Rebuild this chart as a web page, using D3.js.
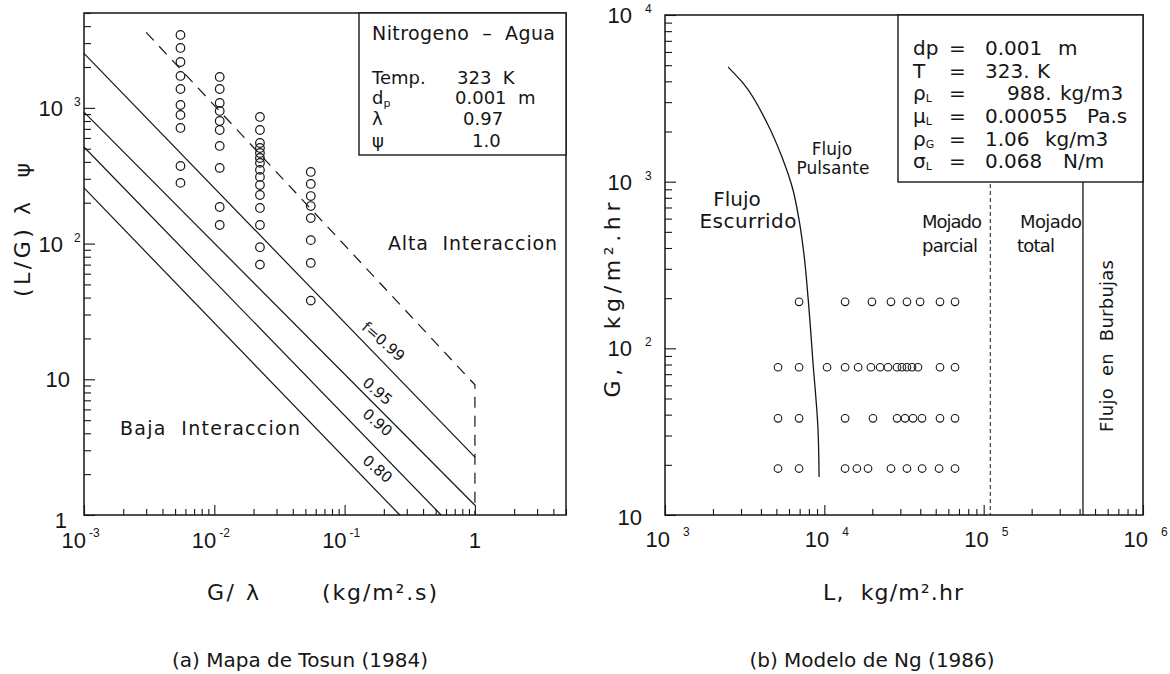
<!DOCTYPE html>
<html>
<head>
<meta charset="utf-8">
<script src="https://cdn.jsdelivr.net/npm/d3@7"></script>
<style>
  body { margin: 0; background: #fff; }
  svg text { font-family: "DejaVu Sans", "Liberation Sans", sans-serif; fill: #161616; }
  svg text.tick { font-family: "Liberation Sans", "DejaVu Sans", sans-serif; }
</style>
</head>
<body>
<svg id="chart" width="1170" height="674"></svg>
<script>
// ---------- Panel (a): Tosun map, nitrogen - water ----------
// G/lambda columns (kg/m2.s) of the measured runs
const tosunG = [5.5e-3, 1.1e-2, 2.24e-2, 5.5e-2];
// (L/G) lambda psi values of each run, one list per column
const tosunLG = [
  [3445, 2763, 2178, 1718, 1377, 1050, 887, 711, 373, 280],
  [1690, 1377, 1087, 949, 800, 687, 524, 361, 186, 137],
  [857, 687, 551, 506, 465, 427, 393, 349, 310, 270, 228, 183, 137, 94, 70],
  [337, 275, 224, 189, 154, 106, 72, 38]
];
// constant wetting-efficiency lines (straight in log-log): end points
const fLabels = ["f=0.99", "0.95", "0.90", "0.80"];
const fStart = [[1e-3, 2520], [1e-3, 930], [1e-3, 515], [1e-3, 257]];
const fEnd   = [[1, 2.67], [1, 1.18], [0.55, 1], [0.265, 1]];
// high / low interaction boundary (dashed)
const tosunBoundary = [[3.0e-3, 3600], [1, 9.1], [1, 1]];
const tosunXTicks = [[1e-3, "10", "-3"], [1e-2, "10", "-2"], [1e-1, "10", "-1"], [1, "1", ""]];
const tosunYTicks = [[1, "1", ""], [10, "10", ""], [100, "10", "2"], [1000, "10", "3"]];
const tosunInfoKeys = ["Temp.", "d", "λ", "ψ"];
const tosunInfoVals = ["323  K", "0.001  m", "0.97", "1.0"];

// ---------- Panel (b): Ng model ----------
// trickle / pulsing transition curve (L, G in kg/m2.hr)
const ngCurve = [[2490, 4870], [3090, 3900], [4370, 2250], [5420, 1405], [6360, 891],
                 [6940, 589], [7460, 363], [7900, 203], [8490, 82], [9130, 32.4], [9270, 16.9]];
// gas flow rates of the measured rows and the liquid rates in each row
const ngG = [190, 77, 38, 19];
const ngL = [
  [6940, 13500, 19900, 26200, 33000, 39900, 53200, 66100],
  [5120, 6940, 10400, 13500, 16300, 19600, 22400, 25100, 28600, 30700, 33000, 35500, 38700, 53200, 66100],
  [5120, 6940, 13500, 20200, 28600, 32100, 36000, 41000, 53200, 66100],
  [5120, 6940, 13500, 16000, 18800, 26200, 33000, 41100, 52500, 66100]
];
const ngPartialWet = 1.1e5;   // partial / total wetting boundary
const ngBubble = 4.2e5;       // onset of bubble flow
const ngXTicks = [[1e3, "10", "3"], [1e4, "10", "4"], [1e5, "10", "5"], [1e6, "10", "6"]];
const ngYTicks = [[10, "10", ""], [100, "10", "2"], [1000, "10", "3"], [1e4, "10", "4"]];
const ngParamSym = ["dp", "T", "ρ", "μ", "ρ", "σ"];
const ngParamSub = ["", "", "L", "L", "G", "L"];
const ngParamVal = ["0.001", "323.", "988.", "0.00055", "1.06", "0.068"];
const ngParamUnit = ["m", "K", "kg/m3", "Pa.s", "kg/m3", "N/m"];

// ---------- drawing ----------
const svg = d3.select("#chart");
const INK = "#161616";

const xA = d3.scaleLog().domain([1e-3, 5]).range([84, 566]);
const yA = d3.scaleLog().domain([1, 5000]).range([515, 13]);
const xB = d3.scaleLog().domain([1e3, 1e6]).range([665, 1143]);
const yB = d3.scaleLog().domain([10, 1e4]).range([515, 15]);

function isPow10(v) { const l = Math.log10(v); return Math.abs(l - Math.round(l)) < 1e-9; }

function drawAxes(g, x, y) {
  const bottom = y.range()[0], left = x.range()[0];
  const xt = x.ticks(), yt = y.ticks();
  const mk = (axis, vals, size, tr) => {
    const a = g.append("g").attr("transform", tr)
      .call(axis.tickValues(vals).tickSize(size).tickFormat(""));
    a.select(".domain").remove();
    a.selectAll("line").attr("stroke", INK).attr("stroke-width", 1.1);
  };
  mk(d3.axisBottom(x), xt.filter(v => !isPow10(v)), -6, `translate(0,${bottom})`);
  mk(d3.axisBottom(x), xt.filter(isPow10), -10, `translate(0,${bottom})`);
  mk(d3.axisLeft(y), yt.filter(v => !isPow10(v)), -7, `translate(${left},0)`);
  mk(d3.axisLeft(y), yt.filter(isPow10), -11, `translate(${left},0)`);
  g.append("rect")
    .attr("x", x.range()[0]).attr("y", y.range()[1])
    .attr("width", x.range()[1] - x.range()[0])
    .attr("height", y.range()[0] - y.range()[1])
    .attr("fill", "none").attr("stroke", INK).attr("stroke-width", 1.5);
}

function text(g, x, y, s, size, opt = {}) {
  const t = g.append("text").attr("x", x).attr("y", y).attr("font-size", size).text(s);
  if (opt.anchor) t.attr("text-anchor", opt.anchor);
  if (opt.len) t.attr("textLength", opt.len).attr("lengthAdjust", "spacing");
  if (opt.cls) t.attr("class", opt.cls);
  if (opt.rot) t.attr("transform", `rotate(${opt.rot},${x},${y})`);
  t.attr("xml:space", "preserve");
  return t;
}

const gA = svg.append("g");
const gB = svg.append("g");
drawAxes(gA, xA, yA);
drawAxes(gB, xB, yB);

// ----- panel (a) content -----
const lineA = d3.line().x(d => xA(d[0])).y(d => yA(d[1]));
const fLabelDx = [2, -4, -4, -4], fLabelDy = [-18, -19, -30, -26];
fStart.forEach((s, i) => {
  gA.append("path").attr("d", lineA([s, fEnd[i]]))
    .attr("fill", "none").attr("stroke", INK).attr("stroke-width", 1.2);
  // label sits just above its line, rotated along it
  const lx = 0.19;
  const t = (Math.log10(lx) - Math.log10(s[0])) / (Math.log10(fEnd[i][0]) - Math.log10(s[0]));
  const ly = Math.pow(10, Math.log10(s[1]) + t * (Math.log10(fEnd[i][1]) - Math.log10(s[1])));
  const px = xA(lx) + fLabelDx[i], py = yA(ly) + fLabelDy[i];
  gA.append("text").attr("x", 0).attr("y", 0).attr("font-size", 15)
    .attr("text-anchor", "middle").attr("dominant-baseline", "middle")
    .attr("transform", `translate(${px},${py}) rotate(41)`).text(fLabels[i]);
});
gA.append("path").attr("d", lineA(tosunBoundary))
  .attr("fill", "none").attr("stroke", INK).attr("stroke-width", 1.2)
  .attr("stroke-dasharray", "11,8");

tosunG.forEach((gv, i) => {
  gA.selectAll(null).data(tosunLG[i]).enter().append("circle")
    .attr("cx", xA(gv)).attr("cy", d => yA(d)).attr("r", 4.3)
    .attr("fill", "none").attr("stroke", INK).attr("stroke-width", 1.2);
});

// info box
gA.append("rect").attr("x", 359).attr("y", yA.range()[1]).attr("width", xA.range()[1] - 359)
  .attr("height", 155 - yA.range()[1]).attr("fill", "#fff").attr("stroke", INK).attr("stroke-width", 1.4);
text(gA, 372, 40, "Nitrogeno  –  Agua", 19, { len: 183 });
const infoY = [84, 104, 125, 147];
tosunInfoKeys.forEach((k, i) => {
  const t = text(gA, 372, infoY[i], k, 18);
  if (k === "d") t.append("tspan").attr("font-size", 11).attr("dy", 3).text("p");
  text(gA, [457, 455, 463, 472][i], infoY[i], tosunInfoVals[i], 18);
});
text(gA, 388, 250, "Alta  Interaccion", 19, { len: 169 });
text(gA, 120, 435, "Baja  Interaccion", 19, { len: 180 });

// tick labels
tosunXTicks.forEach(([v, b, e]) => {
  if (e) {
    text(gA, xA(v) + 2, 548, b, 22, { anchor: "end", cls: "tick" });
    text(gA, xA(v) + 5, 537, e, 12, { cls: "tick" });
  } else text(gA, xA(v), 548, b, 22, { anchor: "middle", cls: "tick" });
});
tosunYTicks.forEach(([v, b, e]) => {
  if (e) {
    text(gA, 63, yA(v) + 8, b, 22, { anchor: "end", cls: "tick" });
    text(gA, 74, yA(v) - 2, e, 12, { cls: "tick" });
  } else if (v === 1) text(gA, 67, yA(v) + 13, b, 22, { anchor: "end", cls: "tick" });
  else text(gA, 70, yA(v) + 8, b, 22, { anchor: "end", cls: "tick" });
});
text(gA, 30, 297, "(L/G) λ  ψ", 22, { len: 134, rot: -90 });
text(gA, 207, 600, "G/ λ", 22, { len: 52 });
text(gA, 322, 600, "(kg/m².s)", 22, { len: 115 });
text(gA, 300, 667, "(a) Mapa de Tosun (1984)", 20, { anchor: "middle" });

// ----- panel (b) content -----
const lineB = d3.line().x(d => xB(d[0])).y(d => yB(d[1])).curve(d3.curveMonotoneY);
gB.append("path").attr("d", lineB(ngCurve))
  .attr("fill", "none").attr("stroke", INK).attr("stroke-width", 1.3);
gB.append("line").attr("x1", xB(ngPartialWet)).attr("x2", xB(ngPartialWet))
  .attr("y1", 184).attr("y2", yB.range()[0])
  .attr("stroke", INK).attr("stroke-width", 1).attr("stroke-dasharray", "4,3");
gB.append("line").attr("x1", xB(ngBubble)).attr("x2", xB(ngBubble))
  .attr("y1", 182).attr("y2", yB.range()[0])
  .attr("stroke", INK).attr("stroke-width", 1.3);

ngG.forEach((gv, i) => {
  gB.selectAll(null).data(ngL[i]).enter().append("circle")
    .attr("cx", d => xB(d)).attr("cy", yB(gv)).attr("r", 3.8)
    .attr("fill", "none").attr("stroke", INK).attr("stroke-width", 1.1);
});

// parameter box
gB.append("rect").attr("x", 898).attr("y", yB.range()[1]).attr("width", xB.range()[1] - 898)
  .attr("height", 182 - yB.range()[1]).attr("fill", "#fff").attr("stroke", INK).attr("stroke-width", 1.4);
const pY = [55, 78, 100, 123, 146, 168];
const valX = [985, 985, 1007, 985, 985, 985];
const unitX = [1058, 1037, 1060, 1087, 1045, 1063];
ngParamSym.forEach((s, i) => {
  const t = text(gB, 913, pY[i], s, 20);
  if (ngParamSub[i]) t.append("tspan").attr("font-size", 11).attr("dy", 2).text(ngParamSub[i]);
  text(gB, 949, pY[i], "=", 20);
  text(gB, valX[i], pY[i], ngParamVal[i], 20);
  text(gB, unitX[i], pY[i], ngParamUnit[i], 20);
});

text(gB, 832, 155, "Flujo", 17, { anchor: "middle" });
text(gB, 833, 174, "Pulsante", 17, { anchor: "middle", len: 73 });
text(gB, 737, 206, "Flujo", 20, { anchor: "middle" });
text(gB, 748, 228, "Escurrido", 20, { anchor: "middle", len: 97 });
text(gB, 952, 228, "Mojado", 18, { anchor: "middle", len: 60 });
text(gB, 950, 252, "parcial", 18, { anchor: "middle", len: 56 });
text(gB, 1020, 228, "Mojado", 18, { len: 62 });
text(gB, 1017, 252, "total", 18, { len: 38 });
text(gB, 1113, 346, "Flujo  en  Burbujas", 18, { anchor: "middle", len: 172, rot: -90 });

ngXTicks.forEach(([v, b, e]) => {
  text(gB, xB(v) + 5, 547, b, 22, { anchor: "end", cls: "tick" });
  text(gB, xB(v) + 18, 536, e, 12, { cls: "tick" });
});
ngYTicks.forEach(([v, b, e]) => {
  if (e) {
    text(gB, 632, yB(v) + 8, b, 22, { anchor: "end", cls: "tick" });
    text(gB, 645, yB(v) - 2, e, 12, { cls: "tick" });
  } else text(gB, 642, yB(v) + 10, b, 22, { anchor: "end", cls: "tick" });
});
text(gB, 620, 300, "G,   kg/m².hr", 22, { anchor: "middle", len: 195, rot: -90 });
text(gB, 823, 600, "L,  kg/m².hr", 22, { len: 140 });
text(gB, 872, 667, "(b) Modelo de Ng (1986)", 20, { anchor: "middle" });
</script>
</body>
</html>
